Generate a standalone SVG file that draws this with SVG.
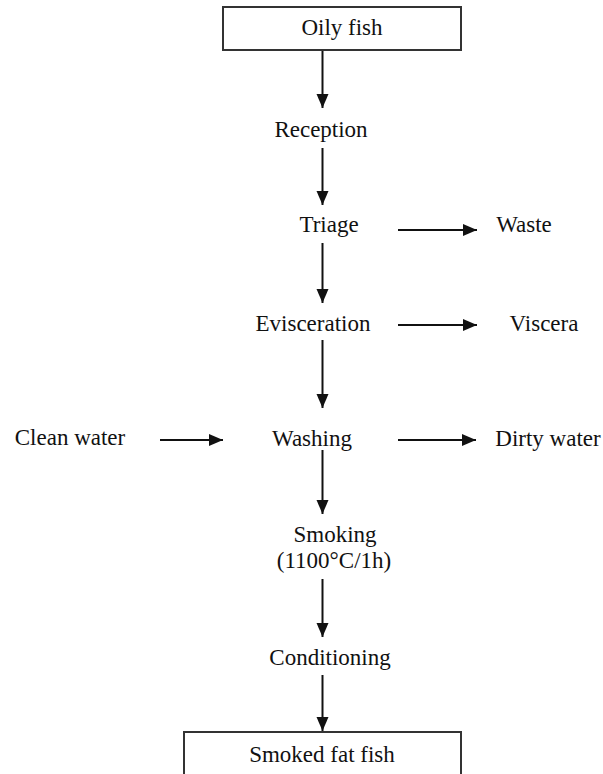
<svg xmlns="http://www.w3.org/2000/svg" width="603" height="774" viewBox="0 0 603 774">
<style>
text{font-family:"Liberation Serif","Times New Roman",serif;font-size:23px;fill:#111;text-anchor:middle}
.box{fill:#fff;stroke:#333;stroke-width:2}
.c line{stroke:#111;stroke-width:2;marker-end:url(#ah)}
</style>
<defs>
<marker id="ah" markerUnits="userSpaceOnUse" markerWidth="16" markerHeight="16" viewBox="0 0 16 16" refX="15" refY="8" orient="auto">
<path d="M1,2 L15,8 L1,14 Z" fill="#111"/>
</marker>
</defs>
<rect width="603" height="774" fill="#fff"/>
<g class="c" id="connectors">
<line x1="322.5" y1="50" x2="322.5" y2="108"/>
<line x1="322.5" y1="148" x2="322.5" y2="205"/>
<line x1="322.5" y1="243" x2="322.5" y2="303"/>
<line x1="322.5" y1="340" x2="322.5" y2="408"/>
<line x1="322.5" y1="450" x2="322.5" y2="514"/>
<line x1="322.5" y1="579" x2="322.5" y2="637"/>
<line x1="322.5" y1="675" x2="322.5" y2="731"/>
<line x1="398" y1="230" x2="477" y2="230"/>
<line x1="398" y1="325" x2="477" y2="325"/>
<line x1="160" y1="440" x2="223" y2="440"/>
<line x1="398" y1="440" x2="476" y2="440"/>
</g>
<g id="oily"><rect class="box" x="223" y="7" width="238" height="43"/><text x="342" y="35">Oily fish</text></g>
<g id="reception"><text x="321" y="137">Reception</text></g>
<g id="triage"><text x="329" y="232">Triage</text></g>
<g id="waste"><text x="524" y="232">Waste</text></g>
<g id="evisceration"><text x="313" y="331">Evisceration</text></g>
<g id="viscera"><text x="544" y="331">Viscera</text></g>
<g id="cleanwater"><text x="70" y="445">Clean water</text></g>
<g id="washing"><text x="312" y="446">Washing</text></g>
<g id="dirtywater"><text x="548" y="446">Dirty water</text></g>
<g id="smoking"><text x="335" y="542">Smoking</text><text x="334" y="568">(1100°C/1h)</text></g>
<g id="conditioning"><text x="330" y="665">Conditioning</text></g>
<g id="smoked"><rect class="box" x="184" y="732" width="277" height="60"/><text x="322" y="762">Smoked fat fish</text></g>
</svg>
